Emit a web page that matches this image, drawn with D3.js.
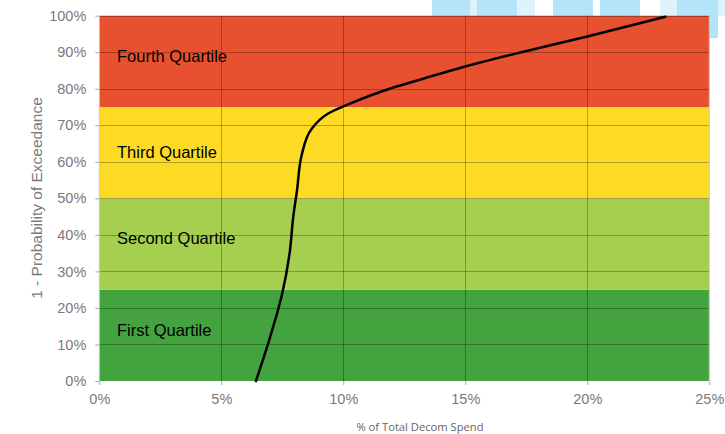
<!DOCTYPE html>
<html><head><meta charset="utf-8">
<script src="https://cdn.jsdelivr.net/npm/d3@7"></script>
<style>body{margin:0;background:#fff;}svg{display:block;}</style>
</head><body>
<svg id="c" width="725" height="434"></svg>
<script>
// Data
const bandNames = ["First Quartile","Second Quartile","Third Quartile","Fourth Quartile"];
const bandLow = [0, 25, 50, 75];
const bandHigh = [25, 50, 75, 100];
const bandColors = ["#43a33e","#a6cf50","#fddb25","#e8512f"];
const labelY = [14, 39, 62.5, 89];
const curveX = [6.42, 7.0, 7.5, 7.8, 7.95, 8.1, 8.3, 8.7, 9.4, 10.3, 11.9, 13.3, 15.0, 17.3, 20.0, 23.2];
const curveY = [0, 12, 24, 35, 45, 52, 62, 69, 73.3, 76, 80, 82.8, 86.1, 90, 94.3, 99.7];
const xTicks = [0, 5, 10, 15, 20, 25];
const yTicks = [0, 10, 20, 30, 40, 50, 60, 70, 80, 90, 100];

const svg = d3.select("#c");
const L = 99.3, R = 709.3, T = 15.7, B = 381;
const x = d3.scaleLinear().domain([0, 25]).range([L, R]);
const y = d3.scaleLinear().domain([0, 100]).range([B, T]);

// background decoration (light blue strips at top)
const deco = svg.append("g");
[[432,470,"#b3e4f8"],[470,477,"#dff3fc"],[477,517,"#b3e4f8"],[517,535,"#dff3fc"],[553,593,"#b3e4f8"],[600,640,"#b3e4f8"],[660,677,"#dff3fc"],[677,717,"#b3e4f8"],[717,725,"#dff3fc"]]
 .forEach(d => deco.append("rect").attr("x", d[0]).attr("y", 0).attr("width", d[1]-d[0]).attr("height", 16).attr("fill", d[2]));
deco.append("rect").attr("x", 709).attr("y", 0).attr("width", 9).attr("height", 38).attr("fill", "#b3e4f8");

// bands
svg.append("g").selectAll("rect").data(bandNames).join("rect")
  .attr("x", x(0)).attr("width", x(25) - x(0))
  .attr("y", (d, i) => y(bandHigh[i])).attr("height", (d, i) => y(bandLow[i]) - y(bandHigh[i]))
  .attr("fill", (d, i) => bandColors[i]);

// grid
const grid = svg.append("g").attr("stroke", "rgba(0,0,0,0.28)").attr("stroke-width", 1);
grid.selectAll(".gx").data(xTicks.slice(1, -1)).join("line")
  .attr("x1", d => Math.round(x(d)) + 0.5).attr("x2", d => Math.round(x(d)) + 0.5)
  .attr("y1", y(100)).attr("y2", y(0));
grid.selectAll(".gy").data(yTicks.slice(1)).join("line")
  .attr("y1", d => Math.round(y(d)) + 0.5).attr("y2", d => Math.round(y(d)) + 0.5)
  .attr("x1", x(0)).attr("x2", x(25));

// axes
const yAxis = svg.append("g").attr("transform", `translate(${L},0)`)
  .call(d3.axisLeft(y).tickValues(yTicks).tickFormat(d => d + "%").tickSize(4).tickPadding(9));
const xAxis = svg.append("g").attr("transform", `translate(0,${B})`)
  .call(d3.axisBottom(x).tickValues(xTicks).tickFormat(d => d + "%").tickSize(4).tickPadding(9));
[yAxis, xAxis].forEach(a => {
  a.selectAll(".tick line").attr("stroke", "#aaa");
  a.selectAll(".tick text").attr("fill", "#7a7a7a").style("font-family", "'Liberation Sans', Arial, sans-serif").style("font-size", "14.5px");
  a.select(".domain").remove();
});
svg.append("line").attr("x1", L).attr("x2", L).attr("y1", T).attr("y2", B + 4).attr("stroke", "#c8c8c8");
svg.append("line").attr("x1", R).attr("x2", R).attr("y1", T).attr("y2", B + 4).attr("stroke", "#c8c8c8");

// band labels
svg.append("g").selectAll("text").data(bandNames).join("text")
  .attr("x", 117).attr("y", (d, i) => y(labelY[i])).attr("dy", "0.35em")
  .style("font-family", "'Liberation Sans', Arial, sans-serif").style("font-size", "16.5px").attr("fill", "#000")
  .text(d => d);

// curve
const pts = curveX.map((v, i) => [v, curveY[i]]);
svg.append("path").datum(pts)
  .attr("d", d3.line().x(d => x(d[0])).y(d => y(d[1])).curve(d3.curveMonotoneY))
  .attr("fill", "none").attr("stroke", "#000").attr("stroke-width", 2.5).attr("stroke-linecap", "round");

// axis titles
svg.append("text").attr("transform", `translate(37,${198}) rotate(-90)`).attr("text-anchor", "middle").attr("dy", "0.35em")
  .style("font-family", "'Liberation Sans', Arial, sans-serif").style("font-size", "15.5px").attr("fill", "#7a7a7a")
  .text("1 - Probability of Exceedance");
svg.append("text").attr("x", 420).attr("y", 427).attr("text-anchor", "middle").attr("dy", "0.35em")
  .style("font-family", "'Open Sans', sans-serif").style("font-size", "11.2px").attr("fill", "#666")
  .text("% of Total Decom Spend");
</script>
</body></html>
